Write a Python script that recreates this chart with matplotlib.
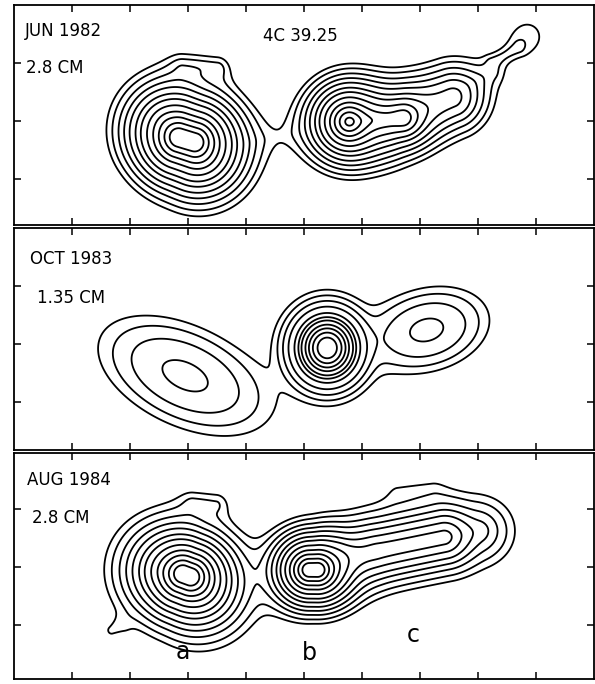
import numpy as np
import matplotlib
matplotlib.use("Agg")
import matplotlib.pyplot as plt

plt.rcParams['font.family'] = ['DejaVu Sans']

# contour levels, percent of the map peak
levels_28cm = [1, 1.5, 2.3, 3.4, 5, 7.6, 11, 17, 26, 38, 55, 75]
levels_135cm = [1, 2, 4, 8, 16, 24, 32, 44, 56, 70, 85]

# 2.8 cm maps: exponential ridge components
# x, y (tick units), amplitude, half length, core radius, scale length, PA (deg)
jun82_x = [2.98, 2.92, 3.21, 4.45, 5.76, 6.28, 6.71, 7.00, 7.90, 8.47, 8.86]
jun82_y = [1.47, 1.45, 2.71, 1.50, 1.78, 1.81, 1.86, 1.98, 2.45, 2.93, 3.26]
jun82_amp = [1.0, 0.10, 0.015, 0.005, 0.72, 0.20, 0.105, 0.09, 0.010, 0.012, 0.013]
jun82_half = [0.14, 0.45, 0.30, 0.40, 0.0, 0.43, 0.0, 0.60, 0.40, 0.25, 0.0]
jun82_core = [0.17, 0.17, 0.10, 0.10, 0.13, 0.09, 0.09, 0.30, 0.10, 0.05, 0.90]
jun82_scale = [0.21, 0.30, 0.17, 0.30, 0.20, 0.17, 0.14, 0.22, 0.20, 0.10, 0.10]
jun82_pa = [-15, -45, 0, 10, 0, 3, 0, 20, 25, 30, 30]

aug84_x = [2.98, 2.90, 1.76, 3.29, 5.16, 6.57, 7.17, 6.91]
aug84_y = [1.79, 1.70, 0.88, 3.02, 1.88, 2.26, 2.40, 3.26]
aug84_amp = [0.97, 0.08, 0.008, 0.012, 1.0, 0.095, 0.035, 0.006]
aug84_half = [0.07, 0.40, 0.10, 0.20, 0.07, 0.86, 0.90, 0.30]
aug84_core = [0.17, 0.17, 0.09, 0.10, 0.14, 0.30, 0.17, 0.20]
aug84_scale = [0.19, 0.38, 0.10, 0.18, 0.17, 0.17, 0.35, 0.20]
aug84_pa = [-20, -30, 30, 0, 0, 12, 10, 0]

# 1.35 cm map: elliptical Gaussians
# x, y, amplitude, sigma major, sigma minor, PA (deg)
oct83_x = [2.95, 5.40, 5.40, 7.12]
oct83_y = [1.28, 1.76, 1.76, 2.07]
oct83_amp = [0.095, 1.0, 0.02, 0.095]
oct83_smaj = [0.76, 0.29, 0.60, 0.52]
oct83_smin = [0.41, 0.31, 0.60, 0.34]
oct83_pa = [-25, 0, 0, 15]

x_ticks = [1, 2, 3, 4, 5, 6, 7, 8, 9]


def ridge_map(X, Y, xs, ys, amps, half, core, scale, pas):
    Z = np.zeros_like(X)
    for x0, y0, a, c, h, s, pa in zip(xs, ys, amps, half, core, scale, pas):
        t = np.radians(pa)
        dx, dy = X - x0, Y - y0
        u = dx * np.cos(t) + dy * np.sin(t)
        v = -dx * np.sin(t) + dy * np.cos(t)
        d2 = np.clip(np.abs(u) - c, 0, None) ** 2 + v ** 2
        Z += a * np.exp(-(np.sqrt(d2 + h ** 2) - h) / s)
    return Z / Z.max()


def gauss_map(X, Y, xs, ys, amps, smaj, smin, pas):
    Z = np.zeros_like(X)
    for x0, y0, a, s1, s2, pa in zip(xs, ys, amps, smaj, smin, pas):
        t = np.radians(pa)
        dx, dy = X - x0, Y - y0
        u = dx * np.cos(t) + dy * np.sin(t)
        v = -dx * np.sin(t) + dy * np.cos(t)
        Z += a * np.exp(-0.5 * ((u / s1) ** 2 + (v / s2) ** 2))
    return Z / Z.max()


fig = plt.figure(figsize=(5.95, 6.84), dpi=100)

panels = [
    # rect, ylim top, y ticks, levels, model, components
    ([14 / 595, 1 - 225 / 684, 580 / 595, 220 / 684], 220 / 58, [0.8, 1.8, 2.8], levels_28cm, ridge_map,
     (jun82_x, jun82_y, jun82_amp, jun82_half, jun82_core, jun82_scale, jun82_pa)),
    ([14 / 595, 1 - 450 / 684, 580 / 595, 222 / 684], 222 / 58, [0.82, 1.82, 2.82], levels_135cm, gauss_map,
     (oct83_x, oct83_y, oct83_amp, oct83_smaj, oct83_smin, oct83_pa)),
    ([14 / 595, 1 - 679 / 684, 580 / 595, 226 / 684], 226 / 58, [0.93, 1.93, 2.93], levels_28cm, ridge_map,
     (aug84_x, aug84_y, aug84_amp, aug84_half, aug84_core, aug84_scale, aug84_pa)),
]

axes = []
for rect, ytop, yticks, levs, model, comps in panels:
    ax = fig.add_axes(rect)
    xg = np.linspace(0, 10, 800)
    yg = np.linspace(0, ytop, 320)
    X, Y = np.meshgrid(xg, yg)
    Z = model(X, Y, *comps)
    ax.contour(X, Y, Z, levels=[l / 100 for l in levs], colors='black', linewidths=1.3)
    ax.set_xlim(0, 10)
    ax.set_ylim(0, ytop)
    ax.set_xticks(x_ticks)
    ax.set_yticks(yticks)
    ax.tick_params(direction='in', length=5, width=1.1, top=True, right=True,
                   labelbottom=False, labelleft=False)
    for sp in ax.spines.values():
        sp.set_linewidth(1.3)
    axes.append(ax)

fs = 12
ax1, ax2, ax3 = axes
ax1.text(0.19, 3.34, 'JUN 1982', fontsize=fs, va='center')
ax1.text(0.21, 2.71, '2.8 CM', fontsize=fs, va='center')
ax1.text(4.93, 3.26, '4C 39.25', fontsize=fs, va='center', ha='center')
ax2.text(0.28, 3.29, 'OCT 1983', fontsize=fs, va='center')
ax2.text(0.40, 2.62, '1.35 CM', fontsize=fs, va='center')
ax3.text(0.22, 3.43, 'AUG 1984', fontsize=fs, va='center')
ax3.text(0.31, 2.78, '2.8 CM', fontsize=fs, va='center')
ax3.text(2.91, 0.47, 'a', fontsize=17, va='center', ha='center')
ax3.text(5.10, 0.45, 'b', fontsize=17, va='center', ha='center')
ax3.text(6.88, 0.76, 'c', fontsize=17, va='center', ha='center')

fig.savefig('out.png', dpi=100, facecolor='white')
